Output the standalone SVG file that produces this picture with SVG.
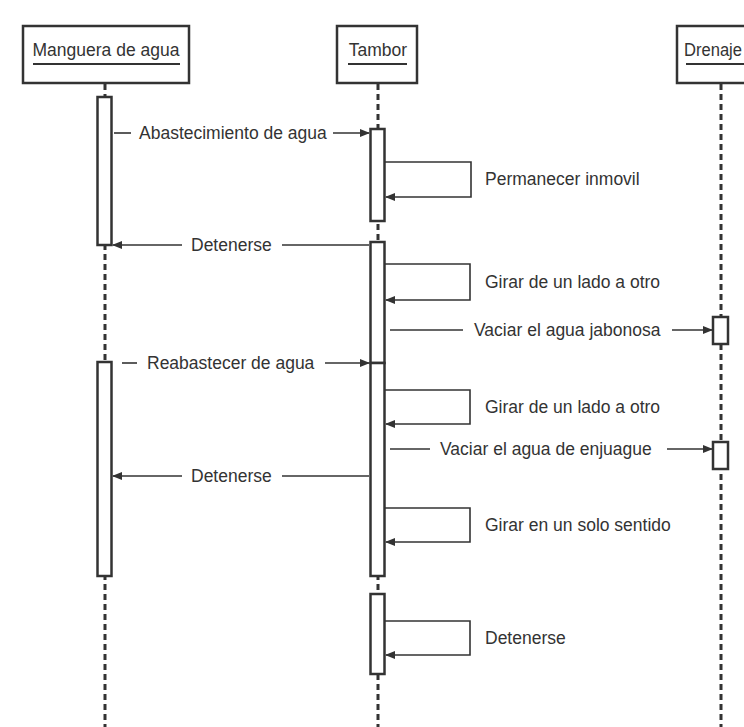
<svg xmlns="http://www.w3.org/2000/svg" width="744" height="727" viewBox="0 0 744 727">
<defs>
<marker id="ah" markerWidth="10" markerHeight="8" refX="9" refY="4" orient="auto" markerUnits="userSpaceOnUse">
<path d="M0,0 L10,4 L0,8 z" fill="#333"/>
</marker>
<style>
text{font-family:"Liberation Sans",Arial,sans-serif;font-size:17.5px;fill:#333}
.hdr{fill:#fff;stroke:#333;stroke-width:2.5}
.ul{stroke:#333;stroke-width:2}
.life{stroke:#333;stroke-width:3;stroke-dasharray:6 4;fill:none}
.act{fill:#fff;stroke:#333;stroke-width:2.5}
.msg{stroke:#333;stroke-width:1.6;fill:none}
.arr{stroke:#333;stroke-width:1.6;fill:none;marker-end:url(#ah)}
</style>
</defs>
<rect width="744" height="727" fill="#fff"/>

<g id="lifelines">
<line class="life" x1="105" y1="84" x2="105" y2="727"/>
<line class="life" x1="378" y1="84" x2="378" y2="727"/>
<line class="life" x1="721" y1="84" x2="721" y2="727"/>
</g>

<g id="manguera">
<rect class="hdr" x="23" y="26" width="166" height="57"/>
<text x="106" y="56" text-anchor="middle">Manguera de agua</text>
<line class="ul" x1="33" y1="64" x2="180" y2="64"/>
<rect class="act" x="97.5" y="97" width="14" height="148"/>
<rect class="act" x="97.5" y="362" width="14" height="214"/>
</g>

<g id="tambor">
<rect class="hdr" x="337" y="26" width="80" height="57"/>
<text x="378" y="56" text-anchor="middle">Tambor</text>
<line class="ul" x1="348" y1="64" x2="407" y2="64"/>
<rect class="act" x="370.5" y="129" width="14" height="92"/>
<rect class="act" x="370.5" y="242" width="14" height="121"/>
<rect class="act" x="370.5" y="363" width="14" height="213"/>
<rect class="act" x="370.5" y="594" width="14" height="80"/>
</g>

<g id="drenaje">
<rect class="hdr" x="677" y="26" width="100" height="57"/>
<text x="684" y="56" textLength="58" lengthAdjust="spacingAndGlyphs">Drenaje</text>
<line class="ul" x1="686" y1="64" x2="760" y2="64"/>
<rect class="act" x="713" y="317" width="15" height="27"/>
<rect class="act" x="713" y="442" width="15" height="27"/>
</g>

<g id="connectors">
<line class="msg" x1="114" y1="133" x2="131" y2="133"/>
<line class="arr" x1="333" y1="133" x2="369" y2="133"/>
<path class="arr" d="M385,162 H471 V197 H386"/>
<line class="msg" x1="369" y1="245" x2="282" y2="245"/>
<line class="arr" x1="182" y1="245" x2="113" y2="245"/>
<path class="arr" d="M385,264 H470 V300 H386"/>
<line class="msg" x1="390" y1="330" x2="463" y2="330"/>
<line class="arr" x1="672" y1="330" x2="712" y2="330"/>
<line class="msg" x1="122" y1="363" x2="137" y2="363"/>
<line class="arr" x1="325" y1="363" x2="369" y2="363"/>
<path class="arr" d="M385,390 H470 V424 H386"/>
<line class="msg" x1="390" y1="449" x2="430" y2="449"/>
<line class="arr" x1="667" y1="449" x2="712" y2="449"/>
<line class="msg" x1="369" y1="476" x2="282" y2="476"/>
<line class="arr" x1="182" y1="476" x2="113" y2="476"/>
<path class="arr" d="M385,508 H470 V542 H386"/>
<path class="arr" d="M385,621 H470 V655 H386"/>
</g>

<g id="labels">
<text x="139" y="139">Abastecimiento de agua</text>
<text x="485" y="185">Permanecer inmovil</text>
<text x="191" y="251">Detenerse</text>
<text x="485" y="288">Girar de un lado a otro</text>
<text x="474" y="336">Vaciar el agua jabonosa</text>
<text x="147" y="369">Reabastecer de agua</text>
<text x="485" y="413">Girar de un lado a otro</text>
<text x="440" y="455">Vaciar el agua de enjuague</text>
<text x="191" y="482">Detenerse</text>
<text x="485" y="531">Girar en un solo sentido</text>
<text x="485" y="644">Detenerse</text>
</g>
</svg>
